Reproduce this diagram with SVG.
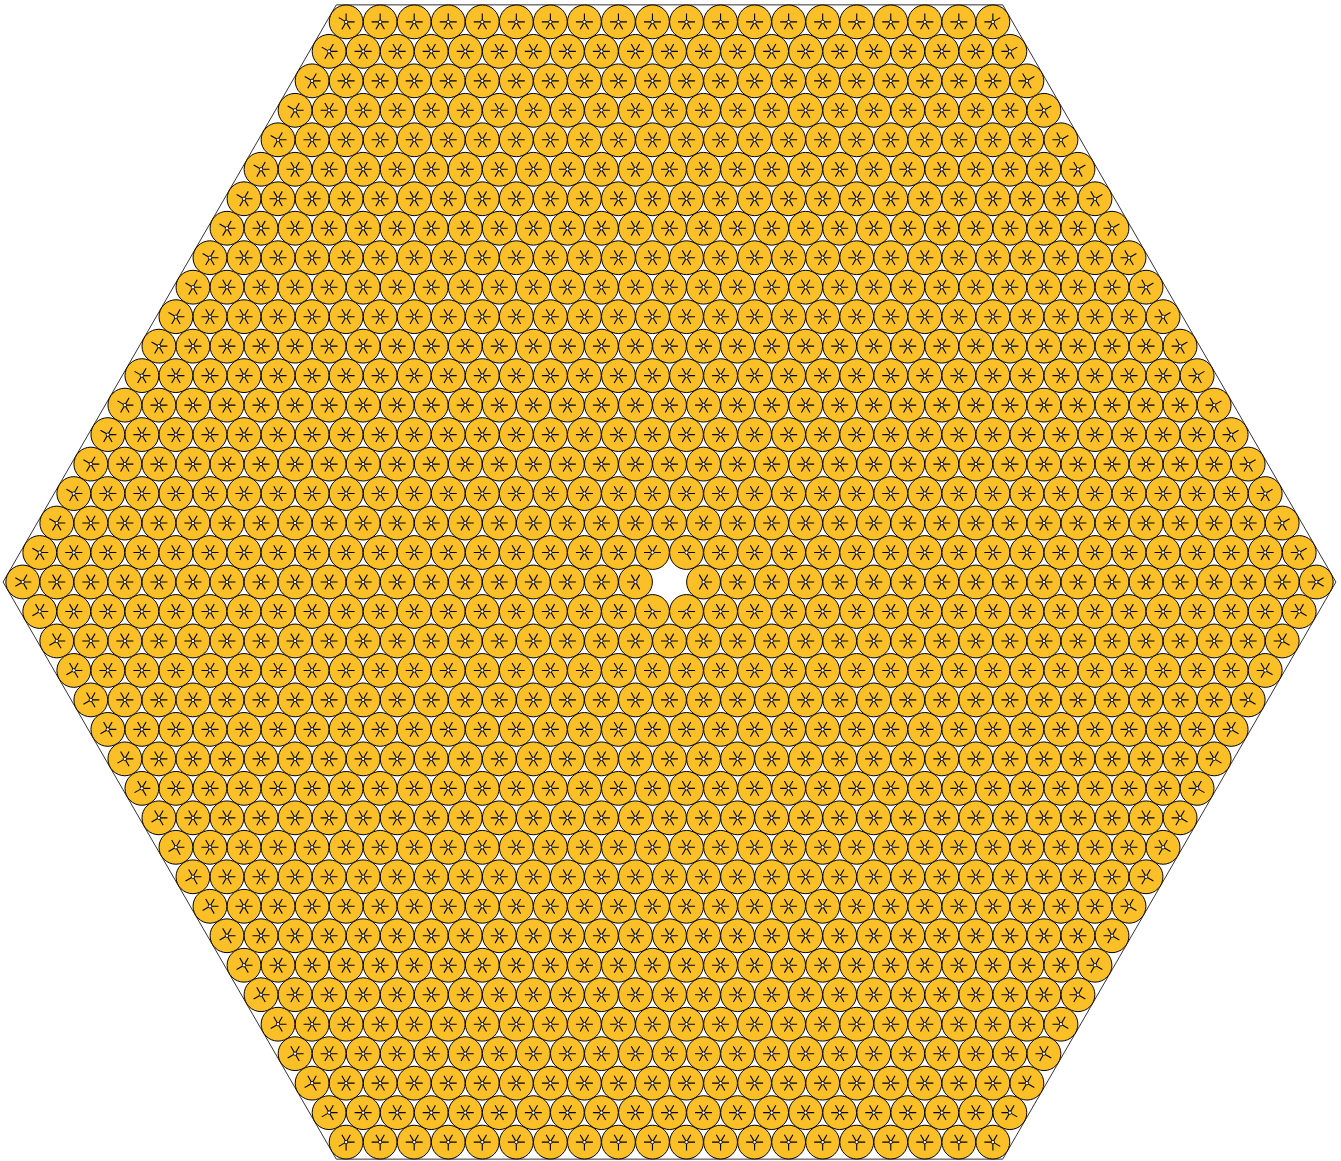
<svg xmlns="http://www.w3.org/2000/svg" width="1341" height="1161" viewBox="0 0 1341 1161">
<style>
.c{fill:#FBBF28;stroke:#000;stroke-width:1}
.s{fill:none;stroke:#000;stroke-width:1.1}
.d{fill:#fff;stroke:#000;stroke-width:0.8}
</style>
<defs>
<circle id="cb" class="c" r="16.9"/>
<circle id="dt" class="d" r="1.7"/>
<g id="A"><use href="#cb"/><path class="s" d="M-8.5 0H8.5M-4.25-7.36L4.25 7.36M4.25-7.36L-4.25 7.36"/><use href="#dt"/></g>
<g id="T"><use href="#cb"/><path class="s" d="M-8.5 0H8.5M0 0L4.25 7.36M0 0L-4.25 7.36M0 0V-8.5"/><use href="#dt"/></g>
<g id="B"><use href="#cb"/><path class="s" d="M-8.5 0H8.5M0 0L-4.25-7.36M0 0L4.25-7.36M0 0V8.5"/><use href="#dt"/></g>
<g id="UL"><use href="#cb"/><path class="s" d="M0 0H8.5M0 0L4.25 7.36M0 0L-4.25 7.36M0 0L4.25-7.36M0 0L-7.36-4.25"/><use href="#dt"/></g>
<g id="LL"><use href="#cb"/><path class="s" d="M0 0H8.5M0 0L4.25 7.36M0 0L-4.25-7.36M0 0L4.25-7.36M0 0L-7.36 4.25"/><use href="#dt"/></g>
<g id="LV"><use href="#cb"/><path class="s" d="M0 0H8.5M0 0L4.25 7.36M0 0L4.25-7.36M0 0L-7.36 4.25M0 0L-7.36-4.25"/><use href="#dt"/></g>
<g id="UR"><use href="#cb"/><path class="s" d="M0 0H-8.5M0 0L4.25 7.36M0 0L-4.25 7.36M0 0L-4.25-7.36M0 0L7.36-4.25"/><use href="#dt"/></g>
<g id="LR"><use href="#cb"/><path class="s" d="M0 0H-8.5M0 0L-4.25 7.36M0 0L-4.25-7.36M0 0L4.25-7.36M0 0L7.36 4.25"/><use href="#dt"/></g>
<g id="RV"><use href="#cb"/><path class="s" d="M0 0H-8.5M0 0L-4.25 7.36M0 0L-4.25-7.36M0 0L7.36 4.25M0 0L7.36-4.25"/><use href="#dt"/></g>
<g id="TL"><use href="#cb"/><path class="s" d="M0 0H8.5M0 0L4.25 7.36M0 0L-4.25 7.36M0 0V-8.5M0 0L-7.36-4.25"/><use href="#dt"/></g>
<g id="TR"><use href="#cb"/><path class="s" d="M0 0H-8.5M0 0L4.25 7.36M0 0L-4.25 7.36M0 0V-8.5M0 0L7.36-4.25"/><use href="#dt"/></g>
<g id="BL"><use href="#cb"/><path class="s" d="M0 0H8.5M0 0L-4.25-7.36M0 0L4.25-7.36M0 0V8.5M0 0L-7.36 4.25"/><use href="#dt"/></g>
<g id="BR"><use href="#cb"/><path class="s" d="M0 0H-8.5M0 0L-4.25-7.36M0 0L4.25-7.36M0 0V8.5M0 0L7.36 4.25"/><use href="#dt"/></g>
<g id="HL"><use href="#cb"/><path class="s" d="M0 0H-8.5M-4.25-7.36L4.25 7.36M4.25-7.36L-4.25 7.36"/><use href="#dt"/></g>
<g id="HR"><use href="#cb"/><path class="s" d="M0 0H8.5M-4.25-7.36L4.25 7.36M4.25-7.36L-4.25 7.36"/><use href="#dt"/></g>
<g id="HUL"><use href="#cb"/><path class="s" d="M-8.5 0H8.5M0 0L-4.25-7.36M4.25-7.36L-4.25 7.36"/><use href="#dt"/></g>
<g id="HUR"><use href="#cb"/><path class="s" d="M-8.5 0H8.5M-4.25-7.36L4.25 7.36M0 0L4.25-7.36"/><use href="#dt"/></g>
<g id="HDL"><use href="#cb"/><path class="s" d="M-8.5 0H8.5M-4.25-7.36L4.25 7.36M0 0L-4.25 7.36"/><use href="#dt"/></g>
<g id="HDR"><use href="#cb"/><path class="s" d="M-8.5 0H8.5M0 0L4.25 7.36M4.25-7.36L-4.25 7.36"/><use href="#dt"/></g>
<g id="P2"><use href="#A"/><use href="#A" x="34.04"/></g>
<g id="P4"><use href="#P2"/><use href="#P2" x="68.08"/></g>
<g id="P8"><use href="#P4"/><use href="#P4" x="136.16"/></g>
<g id="P16"><use href="#P8"/><use href="#P8" x="272.32"/></g>
<g id="T2"><use href="#T"/><use href="#T" x="34.04"/></g>
<g id="T4"><use href="#T2"/><use href="#T2" x="68.08"/></g>
<g id="T8"><use href="#T4"/><use href="#T4" x="136.16"/></g>
<g id="T16"><use href="#T8"/><use href="#T8" x="272.32"/></g>
<g id="B2"><use href="#B"/><use href="#B" x="34.04"/></g>
<g id="B4"><use href="#B2"/><use href="#B2" x="68.08"/></g>
<g id="B8"><use href="#B4"/><use href="#B4" x="136.16"/></g>
<g id="B16"><use href="#B8"/><use href="#B8" x="272.32"/></g>
<g id="R17"><use href="#P16" x="-272.32"/><use href="#A" x="272.32"/></g>
<g id="R18"><use href="#P16" x="-289.34"/><use href="#P2" x="255.30"/></g>
<g id="R19"><use href="#R17"/><use href="#A" x="-306.36"/><use href="#A" x="306.36"/></g>
<g id="R20"><use href="#R18"/><use href="#A" x="-323.38"/><use href="#A" x="323.38"/></g>
<g id="R21"><use href="#R19"/><use href="#A" x="-340.40"/><use href="#A" x="340.40"/></g>
<g id="R22"><use href="#R20"/><use href="#A" x="-357.42"/><use href="#A" x="357.42"/></g>
<g id="R23"><use href="#R21"/><use href="#A" x="-374.44"/><use href="#A" x="374.44"/></g>
<g id="R24"><use href="#R22"/><use href="#A" x="-391.46"/><use href="#A" x="391.46"/></g>
<g id="R25"><use href="#R23"/><use href="#A" x="-408.48"/><use href="#A" x="408.48"/></g>
<g id="R26"><use href="#R24"/><use href="#A" x="-425.50"/><use href="#A" x="425.50"/></g>
<g id="R27"><use href="#R25"/><use href="#A" x="-442.52"/><use href="#A" x="442.52"/></g>
<g id="R28"><use href="#R26"/><use href="#A" x="-459.54"/><use href="#A" x="459.54"/></g>
<g id="R29"><use href="#R27"/><use href="#A" x="-476.56"/><use href="#A" x="476.56"/></g>
<g id="R30"><use href="#R28"/><use href="#A" x="-493.58"/><use href="#A" x="493.58"/></g>
<g id="R31"><use href="#R29"/><use href="#A" x="-510.60"/><use href="#A" x="510.60"/></g>
<g id="R32"><use href="#R30"/><use href="#A" x="-527.62"/><use href="#A" x="527.62"/></g>
<g id="R33"><use href="#R31"/><use href="#A" x="-544.64"/><use href="#A" x="544.64"/></g>
<g id="R34"><use href="#R32"/><use href="#A" x="-561.66"/><use href="#A" x="561.66"/></g>
<g id="R35"><use href="#R33"/><use href="#A" x="-578.68"/><use href="#A" x="578.68"/></g>
</defs>
<rect width="1341" height="1161" fill="#fff"/>
<polygon id="hexagon" points="336.29,4.86 1002.71,4.86 1335.92,582 1002.71,1159.14 336.29,1159.14 3.08,582" fill="none" stroke="#333" stroke-width="1"/>
<g id="packing">
<g id="row-19" transform="translate(669.5 21.88)"><use href="#T16" x="-289.34"/><use href="#T2" x="255.30"/><use href="#TL" x="-323.38"/><use href="#TR" x="323.38"/></g>
<g id="row-18" transform="translate(669.5 51.36)"><use href="#R19"/><use href="#UL" x="-340.40"/><use href="#UR" x="340.40"/></g>
<g id="row-17" transform="translate(669.5 80.84)"><use href="#R20"/><use href="#UL" x="-357.42"/><use href="#UR" x="357.42"/></g>
<g id="row-16" transform="translate(669.5 110.32)"><use href="#R21"/><use href="#UL" x="-374.44"/><use href="#UR" x="374.44"/></g>
<g id="row-15" transform="translate(669.5 139.80)"><use href="#R22"/><use href="#UL" x="-391.46"/><use href="#UR" x="391.46"/></g>
<g id="row-14" transform="translate(669.5 169.28)"><use href="#R23"/><use href="#UL" x="-408.48"/><use href="#UR" x="408.48"/></g>
<g id="row-13" transform="translate(669.5 198.76)"><use href="#R24"/><use href="#UL" x="-425.50"/><use href="#UR" x="425.50"/></g>
<g id="row-12" transform="translate(669.5 228.24)"><use href="#R25"/><use href="#UL" x="-442.52"/><use href="#UR" x="442.52"/></g>
<g id="row-11" transform="translate(669.5 257.72)"><use href="#R26"/><use href="#UL" x="-459.54"/><use href="#UR" x="459.54"/></g>
<g id="row-10" transform="translate(669.5 287.20)"><use href="#R27"/><use href="#UL" x="-476.56"/><use href="#UR" x="476.56"/></g>
<g id="row-9" transform="translate(669.5 316.68)"><use href="#R28"/><use href="#UL" x="-493.58"/><use href="#UR" x="493.58"/></g>
<g id="row-8" transform="translate(669.5 346.16)"><use href="#R29"/><use href="#UL" x="-510.60"/><use href="#UR" x="510.60"/></g>
<g id="row-7" transform="translate(669.5 375.64)"><use href="#R30"/><use href="#UL" x="-527.62"/><use href="#UR" x="527.62"/></g>
<g id="row-6" transform="translate(669.5 405.12)"><use href="#R31"/><use href="#UL" x="-544.64"/><use href="#UR" x="544.64"/></g>
<g id="row-5" transform="translate(669.5 434.60)"><use href="#R32"/><use href="#UL" x="-561.66"/><use href="#UR" x="561.66"/></g>
<g id="row-4" transform="translate(669.5 464.08)"><use href="#R33"/><use href="#UL" x="-578.68"/><use href="#UR" x="578.68"/></g>
<g id="row-3" transform="translate(669.5 493.56)"><use href="#R34"/><use href="#UL" x="-595.70"/><use href="#UR" x="595.70"/></g>
<g id="row-2" transform="translate(669.5 523.04)"><use href="#R35"/><use href="#UL" x="-612.72"/><use href="#UR" x="612.72"/></g>
<g id="row-1" transform="translate(669.5 552.52)"><use href="#R17" x="-323.38"/><use href="#R17" x="323.38"/><use href="#HUL" x="-17.02"/><use href="#HUR" x="17.02"/><use href="#UL" x="-629.74"/><use href="#UR" x="629.74"/></g>
<g id="row0" transform="translate(669.5 582)"><use href="#R17" x="-340.40"/><use href="#R17" x="340.40"/><use href="#HL" x="-34.04"/><use href="#HR" x="34.04"/><use href="#LV" x="-646.76"/><use href="#RV" x="646.76"/></g>
<g id="row1" transform="translate(669.5 611.48)"><use href="#R17" x="-323.38"/><use href="#R17" x="323.38"/><use href="#HDL" x="-17.02"/><use href="#HDR" x="17.02"/><use href="#LL" x="-629.74"/><use href="#LR" x="629.74"/></g>
<g id="row2" transform="translate(669.5 640.96)"><use href="#R35"/><use href="#LL" x="-612.72"/><use href="#LR" x="612.72"/></g>
<g id="row3" transform="translate(669.5 670.44)"><use href="#R34"/><use href="#LL" x="-595.70"/><use href="#LR" x="595.70"/></g>
<g id="row4" transform="translate(669.5 699.92)"><use href="#R33"/><use href="#LL" x="-578.68"/><use href="#LR" x="578.68"/></g>
<g id="row5" transform="translate(669.5 729.40)"><use href="#R32"/><use href="#LL" x="-561.66"/><use href="#LR" x="561.66"/></g>
<g id="row6" transform="translate(669.5 758.88)"><use href="#R31"/><use href="#LL" x="-544.64"/><use href="#LR" x="544.64"/></g>
<g id="row7" transform="translate(669.5 788.36)"><use href="#R30"/><use href="#LL" x="-527.62"/><use href="#LR" x="527.62"/></g>
<g id="row8" transform="translate(669.5 817.84)"><use href="#R29"/><use href="#LL" x="-510.60"/><use href="#LR" x="510.60"/></g>
<g id="row9" transform="translate(669.5 847.32)"><use href="#R28"/><use href="#LL" x="-493.58"/><use href="#LR" x="493.58"/></g>
<g id="row10" transform="translate(669.5 876.80)"><use href="#R27"/><use href="#LL" x="-476.56"/><use href="#LR" x="476.56"/></g>
<g id="row11" transform="translate(669.5 906.28)"><use href="#R26"/><use href="#LL" x="-459.54"/><use href="#LR" x="459.54"/></g>
<g id="row12" transform="translate(669.5 935.76)"><use href="#R25"/><use href="#LL" x="-442.52"/><use href="#LR" x="442.52"/></g>
<g id="row13" transform="translate(669.5 965.24)"><use href="#R24"/><use href="#LL" x="-425.50"/><use href="#LR" x="425.50"/></g>
<g id="row14" transform="translate(669.5 994.72)"><use href="#R23"/><use href="#LL" x="-408.48"/><use href="#LR" x="408.48"/></g>
<g id="row15" transform="translate(669.5 1024.20)"><use href="#R22"/><use href="#LL" x="-391.46"/><use href="#LR" x="391.46"/></g>
<g id="row16" transform="translate(669.5 1053.68)"><use href="#R21"/><use href="#LL" x="-374.44"/><use href="#LR" x="374.44"/></g>
<g id="row17" transform="translate(669.5 1083.16)"><use href="#R20"/><use href="#LL" x="-357.42"/><use href="#LR" x="357.42"/></g>
<g id="row18" transform="translate(669.5 1112.64)"><use href="#R19"/><use href="#LL" x="-340.40"/><use href="#LR" x="340.40"/></g>
<g id="row19" transform="translate(669.5 1142.12)"><use href="#B16" x="-289.34"/><use href="#B2" x="255.30"/><use href="#BL" x="-323.38"/><use href="#BR" x="323.38"/></g>
</g>
</svg>
